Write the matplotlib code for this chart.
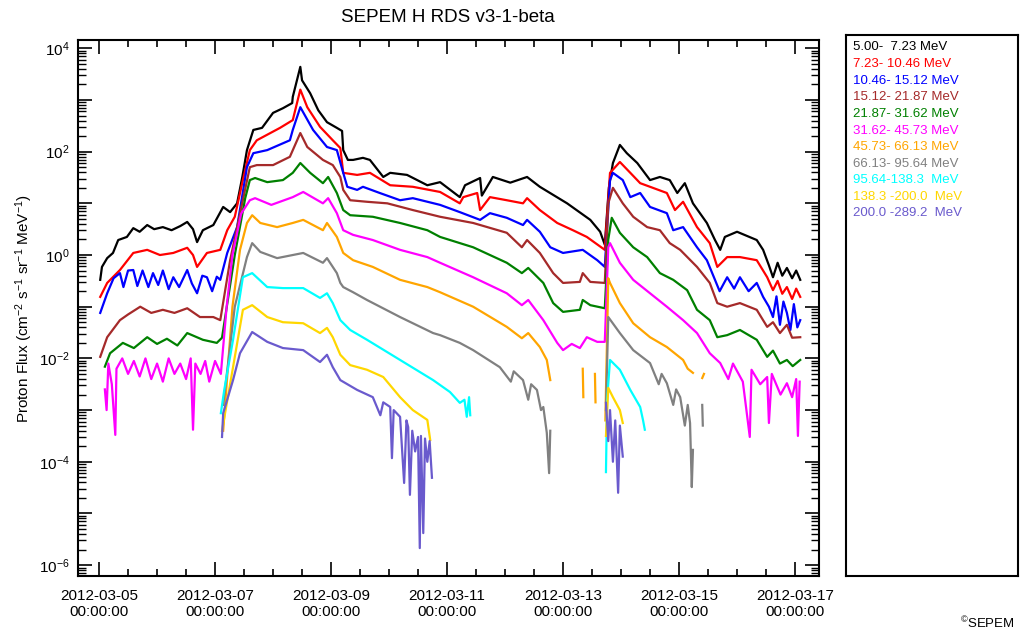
import numpy as np
import matplotlib
matplotlib.use("Agg")
import matplotlib.pyplot as plt
import matplotlib.dates as mdates
from matplotlib.ticker import FixedLocator, FuncFormatter, NullFormatter

plt.rcParams['font.family'] = ['Liberation Sans', 'DejaVu Sans']
plt.rcParams['mathtext.fontset'] = 'custom'
plt.rcParams['mathtext.rm'] = 'Liberation Sans'
plt.rcParams['mathtext.it'] = 'Liberation Sans:italic'
plt.rcParams['mathtext.bf'] = 'Liberation Sans:bold'

# energy channels of the SEPEM reference data set
channel_labels = ['5.00-  7.23 MeV', '7.23- 10.46 MeV', '10.46- 15.12 MeV',
                  '15.12- 21.87 MeV', '21.87- 31.62 MeV', '31.62- 45.73 MeV',
                  '45.73- 66.13 MeV', '66.13- 95.64 MeV', '95.64-138.3  MeV',
                  '138.3 -200.0  MeV', '200.0 -289.2  MeV']
channel_colors = ['black', 'red', 'blue', '#A52A2A', 'green', 'magenta',
                  'orange', 'gray', 'cyan', 'gold', 'slateblue']

start = np.datetime64('2012-03-05T00:00:00')

# (days after 2012-03-05 00:00, log10 flux); nan breaks the line
ch1 = [(0.02, -0.48), (0.05, -0.23), (0.14, -0.06), (0.24, 0.04), (0.33, 0.29), (0.48, 0.35),
       (0.59, 0.52), (0.70, 0.45), (0.83, 0.58), (0.95, 0.50), (1.10, 0.54), (1.25, 0.48),
       (1.40, 0.56), (1.52, 0.64), (1.62, 0.50), (1.69, 0.25), (1.79, 0.48), (1.97, 0.58),
       (2.14, 0.93), (2.26, 0.83), (2.38, 1.00), (2.47, 1.51), (2.55, 2.03), (2.66, 2.42),
       (2.81, 2.46), (3.00, 2.75), (3.17, 2.84), (3.33, 2.94), (3.34, 3.06), (3.47, 3.64),
       (3.50, 3.38), (3.64, 3.13), (3.78, 2.80), (3.93, 2.57), (4.10, 2.46), (4.19, 2.40),
       (4.21, 2.03), (4.29, 1.84), (4.38, 1.84), (4.55, 1.88), (4.67, 1.84), (4.90, 1.51),
       (5.02, 1.59), (5.31, 1.55), (5.66, 1.35), (5.88, 1.41), (6.22, 1.12), (6.31, 1.35),
       (6.57, 1.49), (6.60, 1.15), (6.79, 1.51), (7.09, 1.40), (7.38, 1.51), (7.60, 1.32),
       (8.07, 1.00), (8.47, 0.68), (8.64, 0.45), (8.72, 0.20), (8.79, 1.30), (8.86, 1.78),
       (8.98, 2.13), (9.10, 1.97), (9.28, 1.78), (9.50, 1.45), (9.67, 1.51), (9.84, 1.45),
       (9.97, 1.20), (10.10, 1.39), (10.24, 1.00), (10.48, 0.62), (10.62, 0.29), (10.71, 0.10),
       (10.79, 0.35), (11.00, 0.45), (11.34, 0.29), (11.45, 0.10), (11.55, -0.20),
       (11.62, -0.43), (11.70, -0.15), (11.78, -0.40), (11.86, -0.25), (11.95, -0.45),
       (12.02, -0.30), (12.09, -0.48)]
ch2 = [(0.02, -0.81), (0.14, -0.54), (0.36, -0.29), (0.59, 0.04), (0.83, 0.10), (1.05, 0.00),
       (1.28, 0.04), (1.52, 0.14), (1.62, 0.00), (1.69, -0.23), (1.86, 0.04), (2.09, 0.10),
       (2.21, 0.48), (2.34, 0.74), (2.48, 1.45), (2.60, 2.03), (2.72, 2.22), (3.12, 2.46),
       (3.34, 2.61), (3.47, 3.20), (3.59, 2.86), (3.81, 2.48), (4.03, 2.22), (4.16, 2.07),
       (4.21, 1.59), (4.45, 1.55), (4.67, 1.59), (5.02, 1.35), (5.41, 1.32), (5.88, 1.22),
       (6.22, 1.00), (6.28, 1.12), (6.52, 1.20), (6.57, 0.87), (6.74, 1.12), (7.03, 1.06),
       (7.31, 1.00), (7.38, 1.10), (7.60, 0.87), (7.90, 0.62), (8.17, 0.48), (8.41, 0.35),
       (8.72, 0.10), (8.81, 1.59), (8.98, 1.80), (9.16, 1.59), (9.33, 1.39), (9.50, 1.32),
       (9.79, 1.20), (9.93, 0.87), (10.07, 1.03), (10.31, 0.54), (10.53, 0.23), (10.66, -0.23),
       (10.83, -0.04), (11.05, -0.04), (11.34, -0.10), (11.52, -0.43), (11.62, -0.68),
       (11.70, -0.50), (11.78, -0.75), (11.86, -0.62), (11.95, -0.85), (12.02, -0.65),
       (12.09, -0.81)]
ch3 = [(0.02, -1.12), (0.14, -0.74), (0.25, -0.45), (0.36, -0.35), (0.42, -0.62), (0.50, -0.30),
       (0.59, -0.29), (0.66, -0.60), (0.75, -0.30), (0.85, -0.62), (0.93, -0.35), (1.02, -0.58),
       (1.10, -0.30), (1.20, -0.66), (1.28, -0.43), (1.38, -0.62), (1.52, -0.29), (1.60, -0.55),
       (1.69, -0.74), (1.78, -0.40), (1.86, -0.43), (1.95, -0.70), (2.03, -0.42), (2.09, -0.48),
       (2.21, 0.04), (2.38, 0.54), (2.55, 1.70), (2.66, 1.97), (2.90, 2.03), (3.29, 2.22),
       (3.34, 2.42), (3.47, 2.86), (3.69, 2.42), (3.93, 2.09), (4.10, 2.03), (4.21, 1.59),
       (4.28, 1.32), (4.45, 1.26), (4.55, 1.32), (4.84, 1.20), (5.19, 1.06), (5.41, 1.10),
       (5.88, 0.97), (6.22, 0.83), (6.57, 0.68), (6.74, 0.81), (7.03, 0.72), (7.31, 0.58),
       (7.38, 0.68), (7.60, 0.45), (7.78, 0.15), (8.00, 0.04), (8.34, 0.10), (8.59, -0.10),
       (8.72, -0.23), (8.81, 1.45), (8.86, 1.59), (9.03, 1.45), (9.16, 1.12), (9.33, 1.20),
       (9.50, 0.93), (9.79, 0.81), (9.90, 0.48), (10.07, 0.54), (10.31, 0.15), (10.48, -0.10),
       (10.62, -0.48), (10.70, -0.70), (10.83, -0.43), (10.95, -0.65), (11.05, -0.43),
       (11.20, -0.70), (11.34, -0.54), (11.45, -0.81), (11.55, -1.00), (11.62, -1.20),
       (11.68, -0.80), (11.74, -1.35), (11.80, -0.90), (11.86, -1.12), (11.92, -1.45),
       (11.98, -0.95), (12.04, -1.40), (12.09, -1.26)]
ch4 = [(0.02, -1.97), (0.14, -1.59), (0.36, -1.26), (0.50, -1.15), (0.71, -1.00), (0.90, -1.12),
       (1.10, -1.06), (1.30, -1.12), (1.52, -1.03), (1.74, -1.20), (1.97, -1.20), (2.09, -1.26),
       (2.26, -0.10), (2.43, 0.80), (2.60, 1.70), (2.72, 1.74), (3.00, 1.74), (3.29, 1.90),
       (3.47, 2.36), (3.59, 2.09), (3.86, 1.84), (4.03, 1.74), (4.16, 1.51), (4.21, 1.26),
       (4.33, 1.06), (4.62, 1.03), (4.97, 1.00), (5.41, 0.87), (5.88, 0.74), (6.45, 0.62),
       (7.03, 0.43), (7.29, 0.15), (7.38, 0.29), (7.60, 0.04), (7.83, -0.35), (8.00, -0.54),
       (8.29, -0.52), (8.34, -0.35), (8.47, -0.52), (8.72, -0.54), (8.78, 1.00), (8.86, 1.30),
       (9.03, 1.00), (9.21, 0.74), (9.45, 0.54), (9.67, 0.48), (9.84, 0.23), (10.02, 0.10),
       (10.31, -0.23), (10.53, -0.54), (10.66, -0.93), (10.83, -1.00), (11.05, -0.93),
       (11.34, -1.06), (11.52, -1.39), (11.62, -1.30), (11.74, -1.51), (11.86, -1.35),
       (11.95, -1.60), (12.09, -1.59)]
ch5 = [(0.10, -2.16), (0.19, -1.90), (0.41, -1.70), (0.60, -1.80), (0.83, -1.59), (1.00, -1.72),
       (1.17, -1.62), (1.35, -1.75), (1.52, -1.51), (1.79, -1.64), (2.03, -1.70), (2.12, -1.60),
       (2.34, 0.00), (2.52, 1.10), (2.60, 1.45), (2.69, 1.49), (2.90, 1.41), (3.17, 1.45),
       (3.34, 1.59), (3.47, 1.78), (3.64, 1.59), (3.86, 1.39), (3.95, 1.51), (4.10, 1.20),
       (4.21, 0.87), (4.33, 0.77), (4.72, 0.74), (5.19, 0.62), (5.66, 0.48), (5.88, 0.35),
       (6.45, 0.15), (7.03, -0.15), (7.29, -0.35), (7.40, -0.25), (7.66, -0.54), (7.83, -0.93),
       (8.00, -1.10), (8.29, -1.06), (8.34, -0.87), (8.47, -0.97), (8.72, -1.03), (8.78, 0.30),
       (8.84, 0.72), (8.98, 0.43), (9.21, 0.15), (9.45, -0.04), (9.67, -0.35), (9.90, -0.48),
       (10.14, -0.68), (10.31, -1.06), (10.53, -1.26), (10.66, -1.59), (10.83, -1.55),
       (11.05, -1.45), (11.34, -1.64), (11.52, -1.97), (11.62, -1.85), (11.74, -2.10),
       (11.86, -2.03), (11.96, -2.15), (12.09, -2.03)]
ch6 = [(0.10, -2.60), (0.13, -3.00), (0.16, -2.10), (0.22, -2.50), (0.28, -3.48), (0.30, -2.20),
       (0.40, -2.00), (0.50, -2.30), (0.60, -2.05), (0.70, -2.35), (0.80, -2.00), (0.90, -2.40),
       (1.00, -2.10), (1.10, -2.45), (1.20, -2.00), (1.30, -2.30), (1.40, -2.10), (1.50, -2.40),
       (1.58, -2.00), (1.62, -3.38), (1.66, -2.10), (1.75, -2.30), (1.83, -2.05), (1.90, -2.45),
       (2.00, -2.05), (2.10, -2.30), (2.20, -1.00), (2.30, 0.00), (2.45, 0.80), (2.60, 1.06),
       (2.69, 1.10), (2.97, 0.97), (3.34, 1.12), (3.52, 1.22), (3.86, 1.00), (3.95, 1.10),
       (4.10, 0.81), (4.21, 0.48), (4.38, 0.39), (4.72, 0.29), (5.19, 0.10), (5.66, -0.04),
       (5.88, -0.15), (6.45, -0.43), (7.03, -0.74), (7.29, -0.97), (7.40, -0.87), (7.66, -1.26),
       (7.90, -1.70), (8.00, -1.84), (8.15, -1.72), (8.29, -1.80), (8.41, -1.59), (8.59, -1.68),
       (8.72, -1.68), (8.78, 0.15), (8.81, 0.23), (8.98, -0.15), (9.21, -0.48), (9.50, -0.74),
       (9.79, -1.00), (10.07, -1.26), (10.31, -1.51), (10.53, -1.90), (10.71, -2.09),
       (10.85, -2.40), (10.93, -2.10), (11.10, -2.45), (11.22, -3.52), (11.25, -2.22),
       (11.40, -2.50), (11.52, -2.36), (11.55, -3.25), (11.60, -2.30), (11.75, -2.70),
       (11.86, -2.48), (11.95, -2.75), (12.02, -2.40), (12.05, -3.50), (12.08, -2.45)]
ch7 = [(2.14, -3.40), (2.30, -1.00), (2.43, 0.10), (2.55, 0.62), (2.64, 0.77), (2.78, 0.62),
       (3.07, 0.54), (3.34, 0.62), (3.52, 0.68), (3.86, 0.48), (3.93, 0.62), (4.10, 0.35),
       (4.21, 0.04), (4.38, -0.10), (4.72, -0.23), (5.19, -0.48), (5.66, -0.62), (5.88, -0.72),
       (6.45, -1.00), (7.03, -1.39), (7.29, -1.61), (7.40, -1.51), (7.60, -1.78), (7.72, -2.03),
       (7.78, -2.42), (np.nan, np.nan), (8.34, -2.20), (8.35, -2.75), (np.nan, np.nan),
       (8.55, -2.30), (8.56, -2.85), (np.nan, np.nan), (8.73, -3.20), (8.78, -0.45),
       (8.81, -0.54), (8.98, -0.93), (9.21, -1.32), (9.50, -1.59), (9.79, -1.78),
       (10.07, -2.03), (10.15, -2.20), (10.24, -2.28), (np.nan, np.nan), (10.40, -2.38),
       (10.43, -2.30)]
ch8 = [(2.14, -2.90), (2.34, -1.00), (2.55, -0.04), (2.64, 0.23), (2.78, 0.06), (3.07, -0.06),
       (3.52, 0.04), (3.86, -0.15), (3.93, -0.06), (4.10, -0.35), (4.16, -0.54), (4.21, -0.62),
       (4.38, -0.72), (4.62, -0.87), (5.19, -1.20), (5.76, -1.51), (5.88, -1.55), (6.22, -1.70),
       (6.45, -1.84), (6.91, -2.17), (7.10, -2.45), (7.15, -2.25), (7.31, -2.42), (7.40, -2.80),
       (7.45, -2.50), (7.55, -2.61), (7.62, -3.00), (7.66, -2.94), (7.72, -3.44), (7.76, -4.22),
       (7.78, -3.40), (np.nan, np.nan), (8.74, -3.00), (8.78, -1.20), (8.98, -1.51),
       (9.21, -1.84), (9.50, -2.09), (9.65, -2.50), (9.70, -2.30), (9.79, -2.48), (9.90, -2.90),
       (9.95, -2.60), (10.02, -2.75), (10.10, -3.30), (10.15, -2.90), (10.19, -3.25),
       (10.22, -4.49), (10.24, -3.77), (np.nan, np.nan), (10.40, -2.90), (10.41, -3.30)]
ch9 = [(2.10, -3.06), (2.16, -2.60), (2.31, -1.64), (2.48, -0.43), (2.64, -0.35), (2.90, -0.62),
       (3.17, -0.64), (3.52, -0.64), (3.81, -0.83), (3.93, -0.74), (4.03, -0.93), (4.16, -1.26),
       (4.33, -1.45), (4.62, -1.64), (5.19, -2.03), (5.76, -2.42), (6.05, -2.65), (6.22, -2.86),
       (6.30, -2.80), (6.34, -3.13), (6.38, -2.75), (6.40, -3.10), (np.nan, np.nan),
       (8.74, -4.20), (8.76, -2.80), (8.81, -2.03), (8.98, -2.22), (9.16, -2.61), (9.33, -2.94),
       (9.38, -3.20), (9.41, -3.38)]
ch10 = [(2.12, -3.40), (2.31, -2.17), (2.48, -1.06), (2.64, -0.97), (2.90, -1.20), (3.17, -1.30),
        (3.52, -1.32), (3.81, -1.51), (3.93, -1.41), (4.03, -1.59), (4.16, -1.93), (4.33, -2.13),
        (4.62, -2.22), (4.90, -2.36), (5.19, -2.75), (5.41, -3.00), (5.66, -3.19), (5.71, -3.58),
        (np.nan, np.nan), (8.74, -3.50), (8.78, -2.57), (8.86, -2.75), (8.98, -3.00),
        (9.03, -3.25)]
ch11 = [(2.12, -3.52), (2.14, -3.06), (2.31, -2.42), (2.43, -1.90), (2.64, -1.49), (2.90, -1.68),
        (3.17, -1.80), (3.52, -1.84), (3.81, -2.07), (3.93, -1.93), (4.03, -2.17), (4.16, -2.42),
        (4.45, -2.61), (4.72, -2.75), (4.85, -3.10), (4.90, -2.85), (5.02, -2.94), (5.05, -3.93),
        (5.08, -3.00), (5.19, -3.13), (5.26, -4.41), (5.30, -3.20), (5.33, -3.33), (5.36, -4.64),
        (5.40, -3.40), (5.45, -3.80), (5.50, -3.52), (5.53, -5.67), (5.55, -3.50), (5.59, -5.38),
        (5.62, -3.55), (5.66, -4.00), (5.70, -3.60), (5.74, -4.31), (np.nan, np.nan),
        (8.74, -2.86), (8.78, -3.60), (8.81, -3.00), (8.86, -4.00), (8.90, -3.20),
        (8.95, -4.60), (8.98, -3.30), (9.03, -3.90)]

channels = [ch1, ch2, ch3, ch4, ch5, ch6, ch7, ch8, ch9, ch10, ch11]

fig = plt.figure(figsize=(10.27, 6.41), dpi=100)
ax = fig.add_axes([0.0760, 0.1014, 0.7215, 0.8362])

for data, color in zip(channels, channel_colors):
    arr = np.array(data, dtype=float)
    days, logflux = arr[:, 0], arr[:, 1]
    secs = np.where(np.isnan(days), 0, days * 86400).astype('int64')
    times = start + secs.astype('timedelta64[s]')
    flux = 10.0 ** logflux
    ax.plot(times, flux, color=color, lw=1.6)

ax.set_yscale('log')
ax.set_ylim(10 ** -6.21, 10 ** 4.16)
ax.set_xlim(start - np.timedelta64(31300, 's'), start + np.timedelta64(int(12.414 * 86400), 's'))

ax.xaxis.set_major_locator(mdates.DayLocator(bymonthday=[5, 7, 9, 11, 13, 15, 17]))
ax.xaxis.set_minor_locator(mdates.HourLocator(byhour=[0, 12]))
ax.xaxis.set_major_formatter(mdates.DateFormatter('%Y-%m-%d\n%H:%M:%S'))

decades = [10.0 ** k for k in range(-6, 5)]
ax.yaxis.set_major_locator(FixedLocator(decades))
ax.yaxis.set_major_formatter(FuncFormatter(
    lambda v, p: r'$\mathregular{10^{%d}}$' % round(np.log10(v)) if round(np.log10(v)) % 2 == 0 else ''))
ax.yaxis.set_minor_locator(FixedLocator([m * 10.0 ** k for k in range(-7, 5) for m in range(2, 10)]))
ax.yaxis.set_minor_formatter(NullFormatter())

ax.tick_params(which='both', direction='in', top=True, right=True, width=1.2)
ax.tick_params(which='major', length=10)
ax.tick_params(axis='y', which='minor', length=6, width=1.0, left=True, right=True)
ax.tick_params(axis='x', which='minor', length=5)
ax.tick_params(axis='x', labelsize=11, pad=9)
ax.tick_params(axis='y', labelsize=11, pad=6)
for spine in ax.spines.values():
    spine.set_linewidth(1.5)

ax.set_ylabel(r'Proton Flux (cm$^{-2}$ s$^{-1}$ sr$^{-1}$ MeV$^{-1}$)', fontsize=11, labelpad=3)
fig.text(0.436, 0.972, 'SEPEM H RDS v3-1-beta', ha='center', va='center', fontsize=13.5)

# channel key in a separate framed box
key = fig.add_axes([846 / 1027, 65 / 641, 172 / 1027, 541 / 641])
key.set_xticks([])
key.set_yticks([])
for spine in key.spines.values():
    spine.set_linewidth(1.5)
for i, (label, color) in enumerate(zip(channel_labels, channel_colors)):
    fig.text(853 / 1027, 1 - (47.5 + i * 16.6) / 641, label, color=color,
             fontsize=9.5, ha='left', va='center')

fig.text(0.988, 0.015, r'$^{\copyright}$SEPEM', ha='right', va='bottom', fontsize=9.5)

fig.savefig('out.png', dpi=100)
